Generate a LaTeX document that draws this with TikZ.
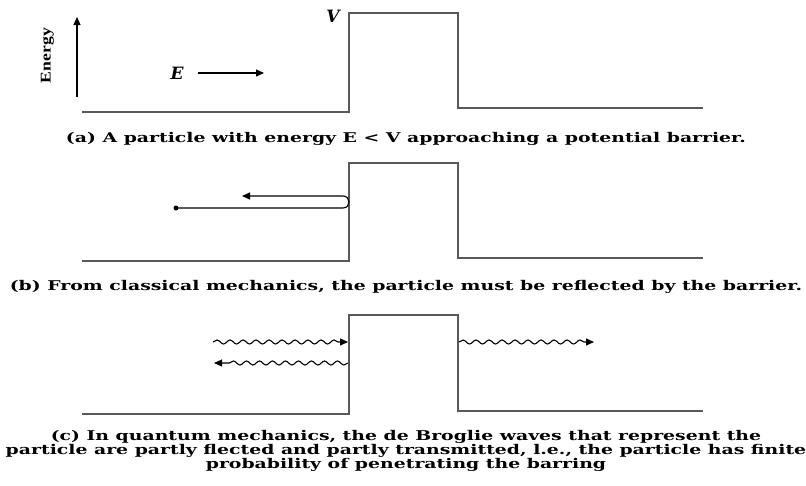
\documentclass[tikz,border=0pt]{standalone}
\usepackage{fontspec}
\setmainfont{DejaVu Serif}
\newfontfamily\enfont{Liberation Serif}
\usepackage{graphicx}
\usetikzlibrary{arrows.meta,decorations.pathmorphing}
\newlength\capw
\newcommand\capfont{\bfseries\fontsize{13.4}{13.4}\selectfont}
\newcommand\capbox[1]{\scalebox{\capsx}[1]{\capfont #1}}
\tikzset{
  barrier/.style={line width=1.9pt, draw=black!65, line join=miter},
  thinline/.style={line width=1.1pt, draw=black},
  tiphead/.style={-{Triangle[length=8pt,width=7pt]}},
  wave/.style={thinline, decorate, decoration={snake, segment length=13pt, amplitude=2pt, post length=9pt}},
  capnode/.style={inner sep=0pt, anchor=base},
  lab/.style={inner sep=0pt, font=\bfseries\itshape\fontsize{17}{17}\selectfont},
}
\AtBeginDocument{%
  \settowidth\capw{\capfont (a) A particle with energy E < V approaching a potential barrier.}%
  \pgfmathsetmacro\capsx{680pt/\capw}%
  \global\let\capsx\capsx}
\begin{document}
\begin{tikzpicture}[x=1pt,y=-1pt]
\useasboundingbox (0,0) rectangle (806,485);
% ---------- panel (a)
\draw[barrier] (82,112) -- (349,112) -- (349,13) -- (458,13) -- (458,108) -- (703,108);
\coordinate (eb) at (77,97);
\coordinate (et) at (77,17);
\draw[thinline,tiphead] (eb) -- (et);
\node[inner sep=0pt, rotate=90] (energy) at (47.5,55.5) {\resizebox*{55pt}{13pt}{\enfont\bfseries\fontsize{12}{12}\selectfont Energy}};
\node[lab] (E) at (177,73) {E};
\coordinate (ea1) at (198,73);
\coordinate (ea2) at (264,73);
\draw[thinline,tiphead] (ea1) -- (ea2);
\node[lab] (V) at (333,16) {V};
\node[capnode] (capa) at (406,142) {\capbox{(a) A particle with energy E < V approaching a potential barrier.}};
% ---------- panel (b)
\draw[barrier] (82,261) -- (349,261) -- (349,163) -- (458,163) -- (458,258) -- (703,258);
\node[circle, fill=black, inner sep=0pt, minimum size=5pt] (dot) at (176,208) {};
\coordinate (bl) at (343,208);
\coordinate (tl) at (343,196);
\coordinate (tipb) at (242,196);
\draw[thinline,tiphead] (dot.center) -- (bl) .. controls (351,208) and (351,196) .. (tl) -- (tipb);
\node[capnode] (capb) at (406,290) {\capbox{(b) From classical mechanics, the particle must be reflected by the barrier.}};
% ---------- panel (c)
\draw[barrier] (82,414) -- (349,414) -- (349,315) -- (458,315) -- (458,411) -- (703,411);
\coordinate (in1) at (213,342);
\coordinate (in2) at (348,342);
\coordinate (rf1) at (348,363);
\coordinate (rf2) at (214,363);
\coordinate (tr1) at (459,342);
\coordinate (tr2) at (594,342);
\draw[wave,tiphead] (in1) -- (in2);
\draw[wave,tiphead] (rf1) -- (rf2);
\draw[wave,tiphead] (tr1) -- (tr2);
\node[capnode] (capc1) at (406,440.5) {\capbox{(c) In quantum mechanics, the de Broglie waves that represent the}};
\node[capnode] (capc2) at (406,454.4) {\capbox{particle are partly flected and partly transmitted, l.e., the particle has finite}};
\node[capnode] (capc3) at (406,468.3) {\capbox{probability of penetrating the barring}};
\end{tikzpicture}
\end{document}
